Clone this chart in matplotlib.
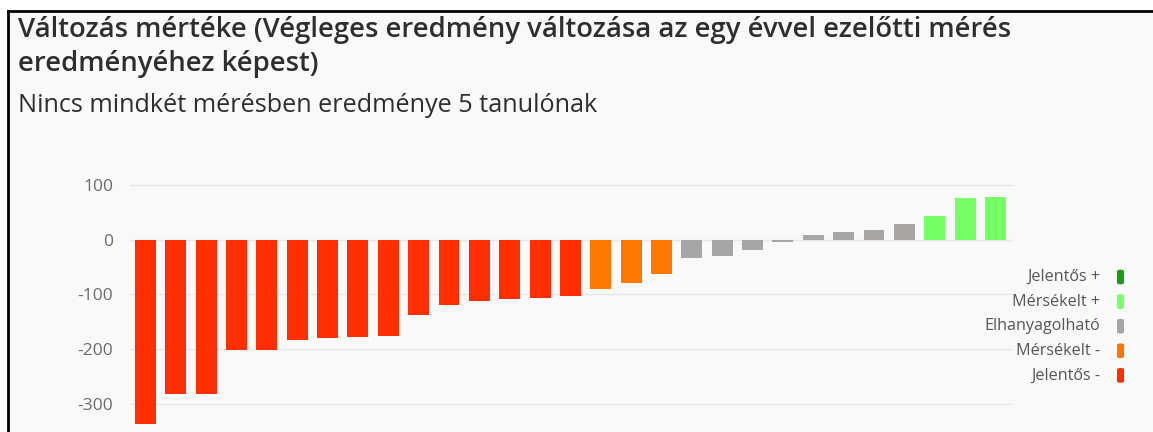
import matplotlib.pyplot as plt
from matplotlib.patches import Rectangle, FancyBboxPatch
from matplotlib.lines import Line2D

# data
values = [-337, -283, -282, -202, -202, -183, -180, -179, -176, -138, -120,
          -113, -109, -106, -103, -91, -80, -63, -34, -30, -19, -5,
          9, 14, 17, 29, 43, 77, 78]
groups = (["Jelentős -"] * 15 + ["Mérsékelt -"] * 3 + ["Elhanyagolható"] * 8
          + ["Mérsékelt +"] * 3)
legend_labels = ["Jelentős +", "Mérsékelt +", "Elhanyagolható", "Mérsékelt -", "Jelentős -"]
legend_colors = ["#1a9e1a", "#77ff66", "#a8a6a4", "#ff7700", "#ff2e00"]
yticks = [100, 0, -100, -200, -300]

title_lines = ["Változás mértéke (Végleges eredmény változása az egy évvel ezelőtti mérés",
               "eredményéhez képest)"]
subtitle = "Nincs mindkét mérésben eredménye 5 tanulónak"

color_of = dict(zip(legend_labels, legend_colors))
W, H = 1153, 432
bg = "#f9f9fa"
font = "Open Sans"

fig = plt.figure(figsize=(W / 100, H / 100), dpi=100)
fig.patch.set_facecolor("white")
renderer = fig.canvas.get_renderer()


def fit(t, width_px):
    # the screenshot is stretched sideways, so size text by its width
    w = t.get_window_extent(renderer).width
    t.set_fontsize(t.get_fontsize() * width_px / w)


fig.add_artist(Rectangle((8 / W, 0), 1, 1 - 11 / H, transform=fig.transFigure,
                         facecolor=bg, edgecolor="none", zorder=-5))
# black frame (screenshot border)
fig.add_artist(Line2D([7.5 / W, 7.5 / W], [0, 1 - 11 / H], transform=fig.transFigure,
                      color="black", lw=2, zorder=5))
fig.add_artist(Line2D([7.5 / W, 1], [1 - 11 / H, 1 - 11 / H], transform=fig.transFigure,
                      color="black", lw=2, zorder=5))

ax = fig.add_axes([130 / W, 0, 883 / W, 262 / H], zorder=1)
ax.set_facecolor("none")
x = range(len(values))
ax.bar(x, values, width=0.69, color=[color_of[g] for g in groups],
       edgecolor="none", zorder=3)
ax.set_xlim(-0.51, 28.58)
ax.set_ylim(-352, 127.5)
ax.set_yticks(yticks)
ax.set_yticklabels([str(v) for v in yticks])
ax.grid(axis="y", color="#e6e8f0", lw=1, zorder=0)
ax.tick_params(axis="y", length=0, pad=12, labelsize=10, labelcolor="#6b6b6b")
ax.set_xticks([])
for s in ax.spines.values():
    s.set_visible(False)
ticklabs = ax.get_yticklabels()
for lab in ticklabs:
    lab.set_fontfamily(font)
w100 = ticklabs[0].get_window_extent(renderer).width
for lab in ticklabs:
    lab.set_fontsize(10 * 30 / w100)

t1 = fig.text(18 / W, 1 - 30 / H, title_lines[0], ha="left", va="center", fontsize=14,
              fontweight="semibold", family=font, color="#2e2e2e")
fit(t1, 1002)
fig.text(18 / W, 1 - 64 / H, title_lines[1], ha="left", va="center",
         fontsize=t1.get_fontsize(), fontweight="semibold", family=font, color="#2e2e2e")
st = fig.text(18 / W, 1 - 105 / H, subtitle, ha="left", va="center", fontsize=12,
              family=font, color="#2e2e2e")
fit(st, 577)

# legend
probe = fig.text(0, 0, "Elhanyagolható", fontsize=10, family=font)
leg_size = 10 * 116 / probe.get_window_extent(renderer).width
probe.remove()
for i, (lab, col) in enumerate(zip(legend_labels, legend_colors)):
    yc = 1 - (277 + i * 24.6) / H
    fig.text(1100 / W, yc, lab, ha="right", va="center", fontsize=leg_size,
             family=font, color="#555555")
    fig.add_artist(FancyBboxPatch((1117 / W, yc - 7.5 / H), 7 / W, 15 / H,
                                  boxstyle="round,pad=0,rounding_size=0.004",
                                  transform=fig.transFigure, facecolor=col,
                                  edgecolor="none", zorder=2))

fig.savefig("out.png", dpi=100, facecolor=fig.get_facecolor())
